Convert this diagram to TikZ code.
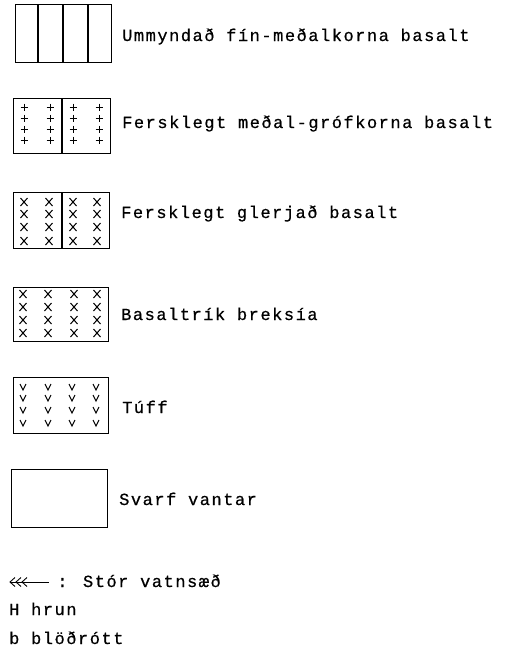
\documentclass[tikz,border=0pt]{standalone}
\usepackage{fontspec}
\setmainfont{Liberation Mono}[LetterSpace=9,FakeBold=0.6]
\begin{document}
\begin{tikzpicture}[x=1pt,y=-1pt,
  legbox/.style={draw,line width=1.2pt,rectangle,anchor=north west,inner sep=0pt},
  lab/.style={anchor=base west,inner sep=0pt,font=\fontsize{17}{19}\selectfont},
  pat/.style={line width=1pt},
  sep/.style={line width=1.1pt}]
\useasboundingbox (0,0) rectangle (509,651);
% box 1
\node[legbox,minimum width=96pt,minimum height=58pt] (b1) at (15,4) {};
\foreach \x in {38,63,88} \draw[sep] (\x,4) -- (\x,62);
\node[lab] (t1) at (122,41) {Ummyndað fín-meðalkorna basalt};
% box 2
\node[legbox,minimum width=97pt,minimum height=55pt] (b2) at (13,98) {};
\draw[sep] (62,98) -- (62,153);
\foreach \x in {24,50,73,99} \foreach \y in {107,118,129,140}
  \draw[pat] (\x,\y) +(-3.5,0) -- +(3.5,0) +(0,-3.5) -- +(0,3.5);
\node[lab] (t2) at (122,128) {Fersklegt meðal-grófkorna basalt};
% box 3
\node[legbox,minimum width=96pt,minimum height=56pt] (b3) at (13,192) {};
\draw[sep] (62,192) -- (62,248);
\foreach \x in {24,49,73,97} \foreach \y in {202,214,227,241}
  \draw[pat] (\x,\y) +(-3.5,-4) -- +(3.5,4) +(-3.5,4) -- +(3.5,-4);
\node[lab] (t3) at (121,218) {Fersklegt glerjað basalt};
% box 4
\node[legbox,minimum width=95pt,minimum height=54pt] (b4) at (13,287) {};
\foreach \x in {23,48,74,97} \foreach \y in {294,307,320,333}
  \draw[pat] (\x,\y) +(-3.5,-4) -- +(3.5,4) +(-3.5,4) -- +(3.5,-4);
\node[lab] (t4) at (121,320) {Basaltrík breksía};
% box 5
\node[legbox,minimum width=95pt,minimum height=56pt] (b5) at (13,377) {};
\foreach \x in {23,48,72,96} \foreach \y in {387,398,410,423}
  \draw[pat] (\x,\y) +(-3,-3) -- +(0,3) -- +(3,-3);
\node[lab] (t5) at (122,413) {Túff};
% box 6
\node[legbox,minimum width=96pt,minimum height=58pt] (b6) at (11,469) {};
\node[lab] (t6) at (119,505) {Svarf vantar};
% bottom notes
\coordinate (aL) at (10,582);
\coordinate (aR) at (49,582);
\draw[line width=1pt] (aL) -- (aR);
\foreach \x in {10,16,22}
  \draw[line width=0.9pt] (\x+5,577.5) -- (\x,582) -- (\x+5,586.5);
\node[lab] (t7) at (57,587) {: Stór vatnsæð};
\node[lab] (t8) at (9,615) {H hrun};
\node[lab] (t9) at (9,644) {b blöðrótt};
\end{tikzpicture}
\end{document}
